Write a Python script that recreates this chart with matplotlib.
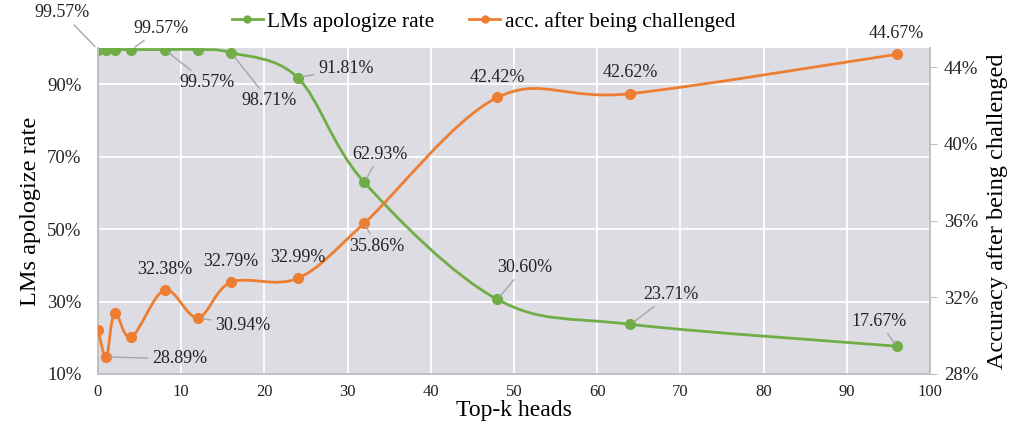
import numpy as np
import matplotlib
matplotlib.use("Agg")
import matplotlib.pyplot as plt
from matplotlib.path import Path
from matplotlib.patches import PathPatch
from matplotlib.lines import Line2D
from matplotlib.ticker import PercentFormatter

plt.rcParams['font.family'] = ['Liberation Serif', 'DejaVu Serif']

# данные
top_k = [0, 1, 2, 4, 8, 12, 16, 24, 32, 48, 64, 96]
apologize = [99.57, 99.57, 99.57, 99.57, 99.57, 99.57, 98.71, 91.81, 62.93, 30.60, 23.71, 17.67]
accuracy = [30.32, 28.89, 31.17, 29.92, 32.38, 30.94, 32.79, 32.99, 35.86, 42.42, 42.62, 44.67]

# какие точки подписаны и куда сдвинуть подпись (в пикселях)
apol_labels = {0: (-36, 37), 3: (30, 21), 4: (42, -33), 6: (38, -48),
               7: (48, 9), 8: (16, 28), 9: (27, 32), 10: (40, 30), 11: (-18, 25)}
acc_labels = {1: (73, -2), 4: (0, 21), 5: (45, -8), 6: (0, 21), 7: (0, 21),
              8: (13, -23), 9: (0, 20), 10: (0, 21), 11: (0, 21)}

green = '#70AD47'
orange = '#ED7D31'
grey = '#BFBFBF'


def smooth_path(xs, ys):
    # сглаживание как в Excel (Catmull-Rom -> Bezier)
    pts = np.column_stack([xs, ys]).astype(float)
    n = len(pts)
    verts = [pts[0]]
    codes = [Path.MOVETO]
    for i in range(n - 1):
        p0 = pts[max(i - 1, 0)]
        p1 = pts[i]
        p2 = pts[i + 1]
        p3 = pts[min(i + 2, n - 1)]
        c1 = p1 + (p2 - p0) / 6.0
        c2 = p2 - (p3 - p1) / 6.0
        verts += [c1, c2, p2]
        codes += [Path.CURVE4] * 3
    return Path(verts, codes)


fig = plt.figure(figsize=(10.24, 4.38), dpi=100)
ax = fig.add_axes([98 / 1024, 1 - 374 / 438, 832 / 1024, 326 / 438])
ax2 = ax.twinx()

ax.set_facecolor('#DDDCE2')
ax.set_xlim(0, 100)
ax.set_ylim(10, 100)
ax2.set_ylim(28, 45)
ax.set_xticks(range(0, 101, 10))
ax.set_yticks([10, 30, 50, 70, 90])
ax2.set_yticks([28, 32, 36, 40, 44])
ax.yaxis.set_major_formatter(PercentFormatter(decimals=0))
ax2.yaxis.set_major_formatter(PercentFormatter(decimals=0))
ax.grid(True, color='white', linewidth=1.3)
ax.set_axisbelow(True)

for a in (ax, ax2):
    a.spines['top'].set_visible(False)
    for s in ('left', 'right', 'bottom'):
        a.spines[s].set_color(grey)
        a.spines[s].set_linewidth(1.2)
ax.tick_params(axis='y', length=0, labelsize=13.5, colors='#222222', pad=12)
ax.tick_params(axis='x', length=0, labelsize=12, colors='#222222', pad=7)
ax2.tick_params(axis='y', length=5, color=grey, labelsize=13.5, labelcolor='#222222', pad=5)

# линии
ax.add_patch(PathPatch(smooth_path(top_k, apologize), fill=False, edgecolor=green, linewidth=2, zorder=3))
ax.plot(top_k, apologize, 'o', color=green, markersize=7, zorder=4)
ax2.add_patch(PathPatch(smooth_path(top_k, accuracy), fill=False, edgecolor=orange, linewidth=2, zorder=3))
ax2.plot(top_k, accuracy, 'o', color=orange, markersize=7, zorder=4)

arrow = dict(arrowstyle='-', color='#A6A6A6', lw=1, shrinkA=1, shrinkB=3)
for i, (dx, dy) in apol_labels.items():
    ax.annotate(f'{apologize[i]:.2f}%', (top_k[i], apologize[i]), xytext=(dx, dy),
                textcoords='offset pixels', ha='center', va='center', fontsize=13,
                color='#222222', arrowprops=arrow, zorder=6)
for i, (dx, dy) in acc_labels.items():
    ax2.annotate(f'{accuracy[i]:.2f}%', (top_k[i], accuracy[i]), xytext=(dx, dy),
                 textcoords='offset pixels', ha='center', va='center', fontsize=13,
                 color='#222222', arrowprops=arrow if abs(dx) > 5 else None, zorder=6)

ax.set_xlabel('Top-k heads', fontsize=17, labelpad=0)
ax.set_ylabel('LMs apologize rate', fontsize=17.5, labelpad=4)
ax2.set_ylabel('Accuracy after being challenged', fontsize=17.5, labelpad=6)

handles = [Line2D([], [], color=green, marker='o', linewidth=2, markersize=5),
           Line2D([], [], color=orange, marker='o', linewidth=2, markersize=5)]
fig.legend(handles, ['LMs apologize rate', 'acc. after being challenged'],
           loc='center', bbox_to_anchor=(0.472, 0.95), ncol=2, frameon=False,
           fontsize=15.5, handlelength=1.45, handletextpad=0.2, columnspacing=1.6)

fig.savefig('out.png', dpi=100)
